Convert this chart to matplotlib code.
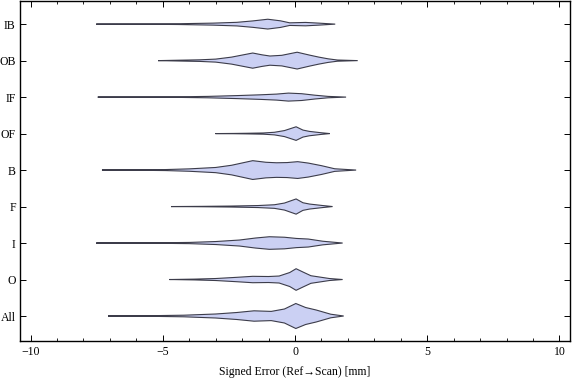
import matplotlib
matplotlib.use("Agg")
import matplotlib.pyplot as plt
from matplotlib.ticker import MultipleLocator

plt.rcParams['font.family'] = ['Liberation Serif', 'DejaVu Serif']

# categories, bottom to top
categories = ['All', 'O', 'I', 'F', 'B', 'OF', 'IF', 'OB', 'IB']

# violin outlines: signed error [mm] and half-width (density, px-ish units)
err_all = [-7.07, -5.5, -4.2, -3.0, -2.2, -1.55, -0.9, -0.4, 0.03, 0.4, 0.8, 1.35, 1.84]
den_all = [0, 0.3, 0.8, 2.0, 3.5, 5.2, 4.6, 7.0, 12.5, 8.5, 6.0, 1.8, 0]

err_o = [-4.75, -3.8, -3.0, -2.2, -1.6, -1.0, -0.6, -0.2, 0.04, 0.3, 0.6, 1.0, 1.3, 1.8]
den_o = [0, 0.4, 1.0, 2.2, 3.2, 3.0, 3.5, 7.0, 10.8, 7.5, 3.8, 2.2, 1.0, 0]

err_i = [-7.52, -5.4, -4.0, -3.0, -2.1, -1.5, -0.97, -0.4, 0.05, 0.5, 1.05, 1.8]
den_i = [0, 0.2, 0.6, 1.5, 3.0, 5.0, 6.3, 5.8, 4.6, 4.0, 1.8, 0]

err_f = [-4.69, -3.5, -2.4, -1.4, -0.78, -0.4, 0.04, 0.3, 0.55, 1.05, 1.42]
den_f = [0, 0.2, 0.5, 1.0, 1.8, 3.5, 7.6, 3.8, 2.5, 1.0, 0]

err_b = [-7.3, -6.0, -4.9, -4.0, -3.0, -2.4, -1.6, -1.1, -0.7, -0.3, 0.1, 0.5, 1.0, 1.5, 2.31]
den_b = [0, 0.2, 0.5, 1.2, 2.6, 4.8, 9.4, 7.8, 7.3, 7.5, 8.4, 7.0, 4.4, 1.3, 0]

err_of = [-3.01, -2.3, -1.85, -1.2, -0.78, -0.4, 0.04, 0.3, 0.54, 1.0, 1.32]
den_of = [0, 0.15, 0.3, 0.6, 1.3, 3.0, 6.8, 3.5, 2.2, 0.8, 0]

err_if = [-7.46, -5.5, -4.4, -3.3, -2.2, -1.3, -0.7, -0.25, 0.25, 0.75, 1.25, 1.93]
den_if = [0, 0.1, 0.3, 0.7, 1.5, 2.3, 3.0, 4.0, 3.4, 1.9, 0.7, 0]

err_ob = [-5.18, -4.4, -3.6, -3.0, -2.4, -1.6, -1.25, -0.95, -0.5, 0.08, 0.55, 0.9, 1.25, 1.6, 2.37]
den_ob = [0, 0.4, 0.8, 1.5, 3.5, 7.6, 5.8, 4.6, 5.3, 8.4, 5.5, 3.5, 1.8, 0.6, 0]

err_ib = [-7.52, -5.5, -4.4, -3.1, -2.2, -1.6, -1.03, -0.55, -0.2, 0.4, 0.9, 1.52]
den_ib = [0, 0.15, 0.4, 1.0, 1.8, 3.2, 4.9, 3.3, 1.3, 1.7, 1.0, 0]

errs = [err_all, err_o, err_i, err_f, err_b, err_of, err_if, err_ob, err_ib]
dens = [den_all, den_o, den_i, den_f, den_b, den_of, den_if, den_ob, den_ib]

width_scale = 1 / 36.5

fig = plt.figure(figsize=(5.76, 3.81), dpi=100)
ax = fig.add_axes([0.0347, 0.105, 0.955, 0.892])

for pos, (e, d) in enumerate(zip(errs, dens), start=1):
    upper = [pos + v * width_scale for v in d]
    lower = [pos - v * width_scale for v in d]
    xs = e + e[::-1]
    ys = upper + lower[::-1]
    ax.fill(xs, ys, facecolor='#cbd0f3', edgecolor='#3c3c4a', linewidth=0.8, alpha=1.0)

ax.set_xlim(-10.4, 10.4)
ax.set_ylim(0.315, 9.63)
ax.set_yticks(range(1, len(categories) + 1))
ax.set_yticklabels(categories)
ax.xaxis.set_major_locator(MultipleLocator(5))
ax.xaxis.set_minor_locator(MultipleLocator(1))
ax.tick_params(axis='both', which='both', direction='in', top=True, right=True,
               labelsize=8.5, color='black')
ax.tick_params(axis='both', which='major', length=4.5, width=0.7)
ax.tick_params(axis='x', which='minor', length=2.5, width=0.6)
ax.tick_params(axis='y', which='major', pad=3)
for s in ax.spines.values():
    s.set_linewidth(1.0)
ax.set_xlabel('Signed Error (Ref\u2192Scan) [mm]', fontsize=8.5, labelpad=6)

fig.savefig('out.png', dpi=100)
